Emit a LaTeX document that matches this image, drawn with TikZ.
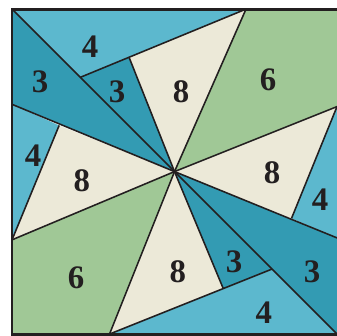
\documentclass[tikz,border=0pt]{standalone}
\usepackage{fontspec}
\setmainfont{Liberation Serif}
\definecolor{paleblue}{HTML}{5CB8CE}
\definecolor{deepteal}{HTML}{339BB3}
\definecolor{cream}{HTML}{ECE9D8}
\definecolor{sage}{HTML}{A0C896}
\definecolor{ink}{HTML}{231F20}
\tikzset{every node/.style={font=\fontsize{23}{26}\selectfont\bfseries, text=ink}}

\begin{document}
\begin{tikzpicture}[x=0.8cm, y=0.8cm, cut/.style={line width=1.1pt, ink},
    frame/.style={line width=2pt, ink}]
    \useasboundingbox (-0.37,-0.05) rectangle (10,10.28);

    % Corners and cut points
    \coordinate (o) at (5,5);
    \coordinate (tl) at (0,10);
    \coordinate (tr) at (10,10);
    \coordinate (bl) at (0,0);
    \coordinate (br) at (10,0);
    \coordinate (t) at (7.2,10);
    \coordinate (l1) at (0,7.07);
    \coordinate (l2) at (0,2.9);
    \coordinate (r1) at (10,7.0);
    \coordinate (r2) at (10,2.96);
    \coordinate (b) at (3.0,0);
    \coordinate (a) at (2.1,7.9);
    \coordinate (a2) at (3.6,8.52);
    \coordinate (c) at (1.45,6.42);
    \coordinate (d) at (6.5,1.4);
    \coordinate (e) at (8,2);
    \coordinate (f) at (8.6,3.56);

    % Pieces
    \fill[paleblue] (tl) -- (t) -- (a) -- cycle;
    \fill[deepteal] (tl) -- (o) -- (l1) -- cycle;
    \fill[deepteal] (a) -- (a2) -- (o) -- cycle;
    \fill[cream] (a2) -- (t) -- (o) -- cycle;
    \fill[sage] (t) -- (tr) -- (r1) -- (o) -- cycle;
    \fill[cream] (r1) -- (f) -- (o) -- cycle;
    \fill[paleblue] (r1) -- (r2) -- (f) -- cycle;
    \fill[deepteal] (o) -- (r2) -- (br) -- cycle;
    \fill[deepteal] (o) -- (e) -- (d) -- cycle;
    \fill[paleblue] (b) -- (br) -- (e) -- cycle;
    \fill[cream] (o) -- (d) -- (b) -- cycle;
    \fill[sage] (l2) -- (o) -- (b) -- (bl) -- cycle;
    \fill[cream] (c) -- (o) -- (l2) -- cycle;
    \fill[paleblue] (l1) -- (c) -- (l2) -- cycle;

    % Cuts
    \draw[cut] (tl) -- (br);
    \draw[cut] (l1) -- (o) -- (r2);
    \draw[cut] (l2) -- (o) -- (r1);
    \draw[cut] (t) -- (o) -- (b);
    \draw[cut] (a) -- (t);
    \draw[cut] (a2) -- (o);
    \draw[cut] (c) -- (l2);
    \draw[cut] (f) -- (r1);
    \draw[cut] (b) -- (e);
    \draw[cut] (d) -- (o);
    \draw[frame] (tr) -- (tl) -- (bl) -- (br);

    % Labels
    \node (n4a) at (2.4,8.84) {4};
    \node (n3a) at (0.86,7.77) {3};
    \node (n3b) at (3.23,7.47) {3};
    \node (n8a) at (5.2,7.47) {8};
    \node (n6a) at (7.88,7.84) {6};
    \node (n4b) at (0.65,5.49) {4};
    \node (n8b) at (2.15,4.73) {8};
    \node (n8c) at (8.0,4.97) {8};
    \node (n4c) at (9.48,4.12) {4};
    \node (n6b) at (1.97,1.74) {6};
    \node (n8d) at (5.1,1.92) {8};
    \node (n3c) at (6.83,2.23) {3};
    \node (n3d) at (9.23,1.92) {3};
    \node (n4d) at (7.75,0.67) {4};
\end{tikzpicture}
\end{document}
